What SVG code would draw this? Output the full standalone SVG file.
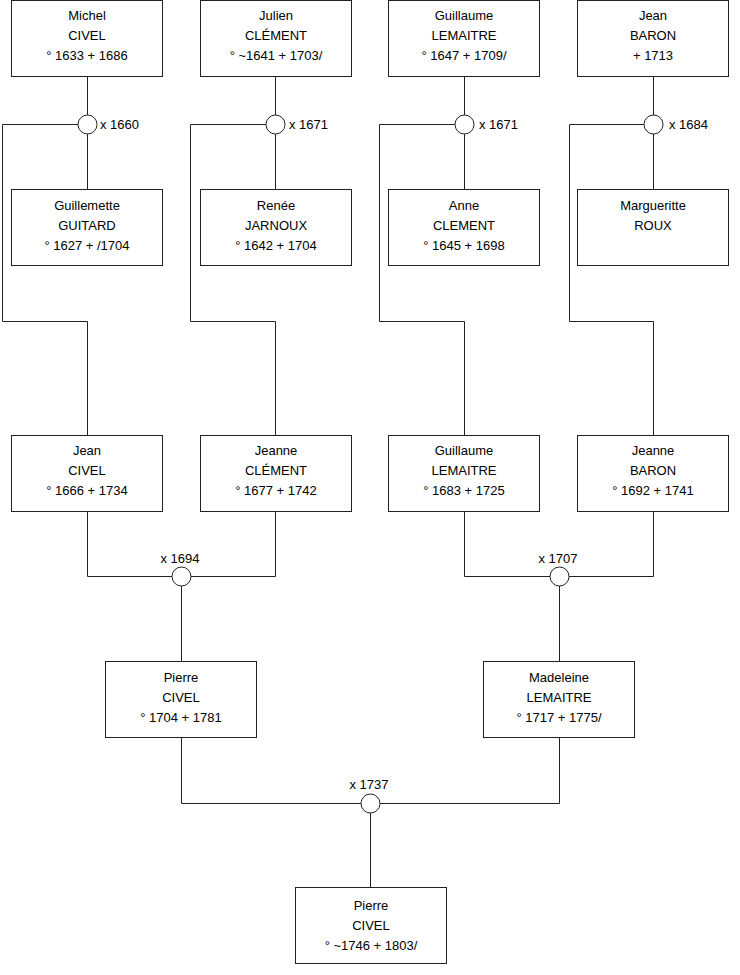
<svg xmlns="http://www.w3.org/2000/svg" width="740" height="975" viewBox="0 0 740 975">
<style>
.box{fill:#fff;stroke:#222;stroke-width:1}
.c{fill:#fff;stroke:#222;stroke-width:1}
.ln{fill:none;stroke:#222;stroke-width:1}
text{font-family:"Liberation Sans",Arial,sans-serif;font-size:13px;fill:#000}
.t{text-anchor:middle}
</style>
<rect width="740" height="975" fill="#fff"/>
<g id="connectors">
<path class="ln" d="M87.5 76.5V189M87.5 124.5H2.5V321.5H87.5V435"/>
<path class="ln" d="M275.5 76.5V189M275.5 124.5H190.5V321.5H275.5V435"/>
<path class="ln" d="M464.5 76.5V189M464.5 124.5H379.5V321.5H464.5V435"/>
<path class="ln" d="M653.5 76.5V189M653.5 124.5H569.5V321.5H653.5V435"/>
<path class="ln" d="M87.5 511.5V576.5H275.5V511.5M181.5 576.5V662"/>
<path class="ln" d="M464.5 511.5V576.5H653.5V511.5M559.5 576.5V662"/>
<path class="ln" d="M181.5 737.5V803.5H559.5V737.5M370.5 803.5V888"/>
</g>
<g id="m1660"><circle class="c" cx="87.5" cy="124.5" r="9.5"/><text x="100" y="128.5">x 1660</text></g>
<g id="m1671a"><circle class="c" cx="275.5" cy="124.5" r="9.5"/><text x="289" y="128.5">x 1671</text></g>
<g id="m1671b"><circle class="c" cx="464.5" cy="124.5" r="9.5"/><text x="479" y="128.5">x 1671</text></g>
<g id="m1684"><circle class="c" cx="653.5" cy="124.5" r="9.5"/><text x="669" y="128.5">x 1684</text></g>
<g id="m1694"><circle class="c" cx="181.5" cy="576.5" r="9.5"/><text class="t" x="180" y="563">x 1694</text></g>
<g id="m1707"><circle class="c" cx="559.5" cy="576.5" r="9.5"/><text class="t" x="558" y="563">x 1707</text></g>
<g id="m1737"><circle class="c" cx="370.5" cy="803.5" r="9.5"/><text class="t" x="369" y="789">x 1737</text></g>
<g id="michel"><rect class="box" x="11.5" y="0.5" width="151" height="76"/><text class="t" x="87" y="20">Michel</text><text class="t" x="87" y="40">CIVEL</text><text class="t" x="87" y="60">° 1633 + 1686</text></g>
<g id="julien"><rect class="box" x="200.5" y="0.5" width="151" height="76"/><text class="t" x="276" y="20">Julien</text><text class="t" x="276" y="40">CLÉMENT</text><text class="t" x="276" y="60">° ~1641 + 1703/</text></g>
<g id="guillaume1"><rect class="box" x="388.5" y="0.5" width="151" height="76"/><text class="t" x="464" y="20">Guillaume</text><text class="t" x="464" y="40">LEMAITRE</text><text class="t" x="464" y="60">° 1647 + 1709/</text></g>
<g id="jeanbaron"><rect class="box" x="577.5" y="0.5" width="151" height="76"/><text class="t" x="653" y="20">Jean</text><text class="t" x="653" y="40">BARON</text><text class="t" x="653" y="60">+ 1713</text></g>
<g id="guillemette"><rect class="box" x="11.5" y="189.5" width="151" height="76"/><text class="t" x="87" y="210">Guillemette</text><text class="t" x="87" y="230">GUITARD</text><text class="t" x="87" y="250">° 1627 + /1704</text></g>
<g id="renee"><rect class="box" x="200.5" y="189.5" width="151" height="76"/><text class="t" x="276" y="210">Renée</text><text class="t" x="276" y="230">JARNOUX</text><text class="t" x="276" y="250">° 1642 + 1704</text></g>
<g id="anne"><rect class="box" x="388.5" y="189.5" width="151" height="76"/><text class="t" x="464" y="210">Anne</text><text class="t" x="464" y="230">CLEMENT</text><text class="t" x="464" y="250">° 1645 + 1698</text></g>
<g id="margueritte"><rect class="box" x="577.5" y="189.5" width="151" height="76"/><text class="t" x="653" y="210">Margueritte</text><text class="t" x="653" y="230">ROUX</text></g>
<g id="jeancivel"><rect class="box" x="11.5" y="435.5" width="151" height="76"/><text class="t" x="87" y="455">Jean</text><text class="t" x="87" y="475">CIVEL</text><text class="t" x="87" y="495">° 1666 + 1734</text></g>
<g id="jeanneclement"><rect class="box" x="200.5" y="435.5" width="151" height="76"/><text class="t" x="276" y="455">Jeanne</text><text class="t" x="276" y="475">CLÉMENT</text><text class="t" x="276" y="495">° 1677 + 1742</text></g>
<g id="guillaume2"><rect class="box" x="388.5" y="435.5" width="151" height="76"/><text class="t" x="464" y="455">Guillaume</text><text class="t" x="464" y="475">LEMAITRE</text><text class="t" x="464" y="495">° 1683 + 1725</text></g>
<g id="jeannebaron"><rect class="box" x="577.5" y="435.5" width="151" height="76"/><text class="t" x="653" y="455">Jeanne</text><text class="t" x="653" y="475">BARON</text><text class="t" x="653" y="495">° 1692 + 1741</text></g>
<g id="pierre1"><rect class="box" x="105.5" y="661.5" width="151" height="76"/><text class="t" x="181" y="682">Pierre</text><text class="t" x="181" y="702">CIVEL</text><text class="t" x="181" y="722">° 1704 + 1781</text></g>
<g id="madeleine"><rect class="box" x="483.5" y="661.5" width="151" height="76"/><text class="t" x="559" y="682">Madeleine</text><text class="t" x="559" y="702">LEMAITRE</text><text class="t" x="559" y="722">° 1717 + 1775/</text></g>
<g id="pierre2"><rect class="box" x="295.5" y="887.5" width="151" height="76"/><text class="t" x="371" y="910">Pierre</text><text class="t" x="371" y="930">CIVEL</text><text class="t" x="371" y="950">° ~1746 + 1803/</text></g>
</svg>
